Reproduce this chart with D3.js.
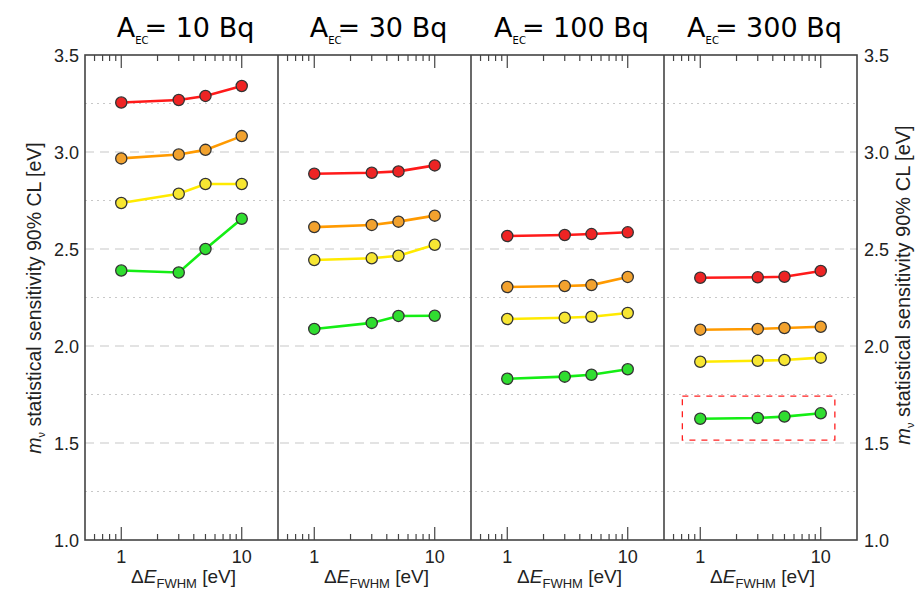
<!DOCTYPE html>
<meta charset="utf-8">
<style>
body { margin: 0; background: #fff; }
.tick-label { font: 18px "Liberation Sans", Arial, sans-serif; fill: #222; }
.title { font: 27px "DejaVu Sans", sans-serif; fill: #000; }
.axis-title { font: 19px "Liberation Sans", Arial, sans-serif; fill: #222; }
</style>
<svg width="917" height="592"></svg>
<script src="https://d3js.org/d3.v7.min.js"></script>
<script>

// data
var activities = [10, 30, 100, 300];          // A_EC [Bq], one panel each
var fwhm = [1, 3, 5, 10];                     // Delta E_FWHM [eV]
var redVals = [[3.255, 3.268, 3.289, 3.340], [2.888, 2.893, 2.900, 2.931], [2.567, 2.572, 2.577, 2.586], [2.352, 2.354, 2.357, 2.387]];
var orangeVals = [[2.967, 2.987, 3.011, 3.082], [2.613, 2.624, 2.641, 2.672], [2.304, 2.309, 2.314, 2.356], [2.084, 2.088, 2.093, 2.099]];
var yellowVals = [[2.737, 2.785, 2.835, 2.835], [2.443, 2.452, 2.465, 2.522], [2.139, 2.146, 2.151, 2.170], [1.919, 1.924, 1.928, 1.940]];
var greenVals = [[2.389, 2.379, 2.500, 2.656], [2.088, 2.119, 2.155, 2.156], [1.831, 1.842, 1.852, 1.880], [1.625, 1.629, 1.636, 1.653]];
var yTicks = [1.0, 1.5, 2.0, 2.5, 3.0, 3.5];
var xMajor = [1, 10];
var xMinor = [0.6, 0.7, 0.8, 0.9, 2, 3, 4, 5, 6, 7, 8, 9];
var boxX = [0.71, 13.1], boxY = [1.515, 1.742];   // highlighted region in last panel

var series = [
  {vals: redVals, line: "#ff1a1a", fill: "#ee2424"},
  {vals: orangeVals, line: "#ff9a00", fill: "#f2a22e"},
  {vals: yellowVals, line: "#ffea00", fill: "#f7e632"},
  {vals: greenVals, line: "#14ee14", fill: "#30dd30"}
];

var svg = d3.select("svg"),
    plotL = 85, plotR = 857, plotT = 55, plotB = 540,
    panelW = (plotR - plotL) / activities.length;

var y = d3.scaleLinear().domain([1.0, 3.5]).range([plotB, plotT]);

// grid
svg.append("g").selectAll("line")
    .data(d3.range(1.25, 3.5, 0.25))
  .enter().append("line")
    .attr("x1", plotL).attr("x2", plotR)
    .attr("y1", function(d) { return y(d); })
    .attr("y2", function(d) { return y(d); })
    .attr("stroke", "#c8c8c8")
    .attr("stroke-width", 1.2)
    .attr("stroke-dasharray", function(d) { return Math.abs(d * 2 - Math.round(d * 2)) < 1e-6 ? "9,6" : "2,4"; });

activities.forEach(function(a, i) {
  var x0 = plotL + i * panelW;
  var x = d3.scaleLog().domain([0.5, 20]).range([x0, x0 + panelW]);
  var g = svg.append("g");

  // ticks top and bottom, pointing inwards
  var ticks = xMajor.map(function(v) { return {v: v, len: 13}; })
      .concat(xMinor.map(function(v) { return {v: v, len: 6}; }));
  ticks.forEach(function(t) {
    g.append("line").attr("x1", x(t.v)).attr("x2", x(t.v)).attr("y1", plotB).attr("y2", plotB - t.len)
      .attr("stroke", "#444").attr("stroke-width", 1.2);
    g.append("line").attr("x1", x(t.v)).attr("x2", x(t.v)).attr("y1", plotT).attr("y2", plotT + t.len)
      .attr("stroke", "#444").attr("stroke-width", 1.2);
  });

  g.selectAll(".xl")
      .data(xMajor)
    .enter().append("text")
      .attr("class", "tick-label")
      .attr("x", function(d) { return x(d); })
      .attr("y", 563)
      .attr("text-anchor", "middle")
      .text(function(d) { return d; });

  // x axis title
  var xt = g.append("text").attr("class", "axis-title")
      .attr("x", x0 + panelW / 2 + 2).attr("y", 583).attr("text-anchor", "middle");
  xt.append("tspan").text("\u0394");
  xt.append("tspan").style("font-style", "italic").text("E");
  xt.append("tspan").attr("dy", 5).style("font-size", "13px").text("FWHM");
  xt.append("tspan").attr("dy", -5).text(" [eV]");

  // panel title
  var tt = g.append("text").attr("class", "title")
      .attr("x", x0 + panelW / 2 + 4).attr("y", 37).attr("text-anchor", "middle");
  tt.append("tspan").text("A");
  tt.append("tspan").attr("dy", 7).style("font-size", "10px").text("EC");
  tt.append("tspan").attr("dy", -7).attr("dx", -4).text("= " + a + " Bq");

  // highlighted box
  if (i === activities.length - 1) {
    g.append("rect")
      .attr("x", x(boxX[0])).attr("y", y(boxY[1]))
      .attr("width", x(boxX[1]) - x(boxX[0]))
      .attr("height", y(boxY[0]) - y(boxY[1]))
      .attr("fill", "none").attr("stroke", "#ff2020")
      .attr("stroke-width", 1.3).attr("stroke-dasharray", "6,6");
  }

  series.forEach(function(s) {
    var pts = fwhm.map(function(f, j) { return [f, s.vals[i][j]]; });
    g.append("path")
      .attr("d", d3.line().x(function(d) { return x(d[0]); }).y(function(d) { return y(d[1]); })(pts))
      .attr("fill", "none").attr("stroke", s.line).attr("stroke-width", 2.6);
    g.selectAll(null)
        .data(pts)
      .enter().append("circle")
        .attr("cx", function(d) { return x(d[0]); })
        .attr("cy", function(d) { return y(d[1]); })
        .attr("r", 5.6)
        .attr("fill", s.fill)
        .attr("stroke", "#333")
        .attr("stroke-width", 1.3);
  });

  if (i > 0) {
    svg.append("line").attr("x1", x0).attr("x2", x0).attr("y1", plotT).attr("y2", plotB)
      .attr("stroke", "#444").attr("stroke-width", 1.6);
  }
});

// frame
svg.append("rect").attr("x", plotL).attr("y", plotT)
    .attr("width", plotR - plotL).attr("height", plotB - plotT)
    .attr("fill", "none").attr("stroke", "#444").attr("stroke-width", 1.6);

// y tick labels on both sides
svg.selectAll(".yl")
    .data(yTicks)
  .enter().append("text")
    .attr("class", "tick-label")
    .attr("x", 79).attr("y", function(d) { return y(d) + 6.5; })
    .attr("text-anchor", "end")
    .text(function(d) { return d.toFixed(1); });
svg.selectAll(".yr")
    .data(yTicks)
  .enter().append("text")
    .attr("class", "tick-label")
    .attr("x", 864).attr("y", function(d) { return y(d) + 6.5; })
    .text(function(d) { return d.toFixed(1); });

function yTitle(cx, cy, size) {
  var t = svg.append("text").attr("class", "axis-title")
      .style("font-size", size + "px")
      .attr("transform", "translate(" + cx + "," + cy + ") rotate(-90)")
      .attr("text-anchor", "middle");
  t.append("tspan").style("font-style", "italic").text("m");
  t.append("tspan").attr("dy", 4).style("font-size", "11px").text("\u03bd");
  t.append("tspan").attr("dy", -4).text(" statistical sensitivity 90% CL [eV]");
}
yTitle(41, 298, 19.5);
yTitle(910, 285, 20);

</script>
